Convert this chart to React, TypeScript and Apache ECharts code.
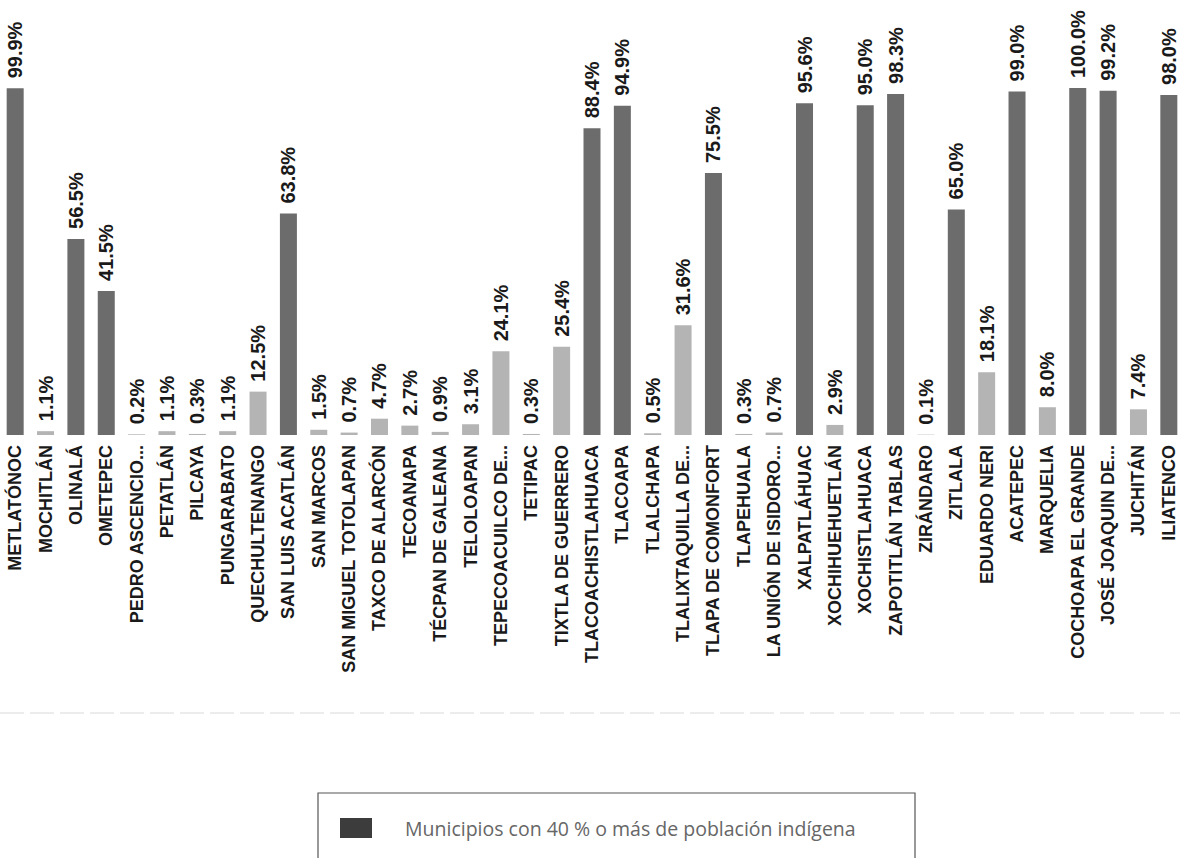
import React, { useEffect, useRef } from "react";
import * as echarts from "echarts";

const categories = [
  "METLATÓNOC", "MOCHITLÁN", "OLINALÁ", "OMETEPEC", "PEDRO ASCENCIO...", "PETATLÁN",
  "PILCAYA", "PUNGARABATO", "QUECHULTENANGO", "SAN LUIS ACATLÁN", "SAN MARCOS",
  "SAN MIGUEL TOTOLAPAN", "TAXCO DE ALARCÓN", "TECOANAPA", "TÉCPAN DE GALEANA",
  "TELOLOAPAN", "TEPECOACUILCO DE...", "TETIPAC", "TIXTLA DE GUERRERO",
  "TLACOACHISTLAHUACA", "TLACOAPA", "TLALCHAPA", "TLALIXTAQUILLA DE...",
  "TLAPA DE COMONFORT", "TLAPEHUALA", "LA UNIÓN DE ISIDORO...", "XALPATLÁHUAC",
  "XOCHIHUEHUETLÁN", "XOCHISTLAHUACA", "ZAPOTITLÁN TABLAS", "ZIRÁNDARO", "ZITLALA",
  "EDUARDO NERI", "ACATEPEC", "MARQUELIA", "COCHOAPA EL GRANDE", "JOSÉ JOAQUIN DE...",
  "JUCHITÁN", "ILIATENCO",
];

const values = [
  99.9, 1.1, 56.5, 41.5, 0.2, 1.1, 0.3, 1.1, 12.5, 63.8, 1.5, 0.7, 4.7, 2.7, 0.9, 3.1,
  24.1, 0.3, 25.4, 88.4, 94.9, 0.5, 31.6, 75.5, 0.3, 0.7, 95.6, 2.9, 95.0, 98.3, 0.1,
  65.0, 18.1, 99.0, 8.0, 100.0, 99.2, 7.4, 98.0,
];

const THRESHOLD = 40;
const highName = "Municipios con 40 % o más de población indígena";
const lowName = "Municipios con menos de 40 % de población indígena";

const highValues = values.map((v) => (v >= THRESHOLD ? v : "-"));
const lowValues = values.map((v) => (v < THRESHOLD ? v : "-"));

export default function App() {
  const ref = useRef<HTMLDivElement>(null);

  useEffect(() => {
    if (!ref.current) return;
    const chart = echarts.init(ref.current, null, { renderer: "svg" });
    const label = {
      show: true,
      position: "top",
      rotate: 90,
      align: "left",
      verticalAlign: "middle",
      distance: 10,
      color: "#1a1a1a",
      fontFamily: "Liberation Sans",
      fontWeight: "bold",
      fontSize: 20,
      formatter: (p: any) => Number(p.value).toFixed(1) + "%",
    };
    chart.setOption({
      animation: false,
      backgroundColor: "#ffffff",
      grid: { left: 0, right: 0, top: 88, bottom: 423, containLabel: false },
      xAxis: {
        type: "category",
        data: categories,
        axisLine: { show: false },
        axisTick: { show: false },
        axisLabel: {
          interval: 0,
          rotate: 90,
          margin: 10,
          color: "#1a1a1a",
          fontFamily: "Liberation Sans",
          fontWeight: "bold",
          fontSize: 18,
        },
      },
      yAxis: {
        type: "value",
        min: 0,
        max: 100,
        show: false,
        splitLine: { show: false },
      },
      legend: {
        data: [highName],
        orient: "vertical",
        left: 335,
        top: 813,
        itemWidth: 32,
        itemHeight: 20,
        icon: "rect",
        itemStyle: { color: "#3c3c3c" },
        textStyle: {
          color: "#666666",
          fontFamily: "Open Sans",
          fontSize: 19.5,
          padding: [0, 0, 0, 28],
        },
      },
      graphic: [
        {
          type: "line",
          shape: { x1: 0, y1: 713, x2: 1184, y2: 713 },
          style: { stroke: "#e6e6e6", lineWidth: 1.5, lineDash: [24, 6] },
          silent: true,
        },
        {
          type: "rect",
          shape: { x: 318, y: 793, width: 597, height: 90 },
          style: { fill: "none", stroke: "#555555", lineWidth: 1.2 },
          silent: true,
        },
      ],
      series: [
        {
          name: highName,
          type: "bar",
          stack: "all",
          barWidth: 17,
          data: highValues,
          itemStyle: { color: "#6c6c6c" },
          label,
        },
        {
          name: lowName,
          type: "bar",
          stack: "all",
          barWidth: 17,
          data: lowValues,
          itemStyle: { color: "#b4b4b4" },
          label,
        },
      ],
    });
    return () => chart.dispose();
  }, []);

  return (
    <div
      style={{
        position: "fixed",
        left: 0,
        top: 0,
        width: 1180,
        height: 858,
        overflow: "hidden",
        background: "#fff",
      }}
    >
      <div ref={ref} style={{ width: 1184, height: 858 }} />
    </div>
  );
}
